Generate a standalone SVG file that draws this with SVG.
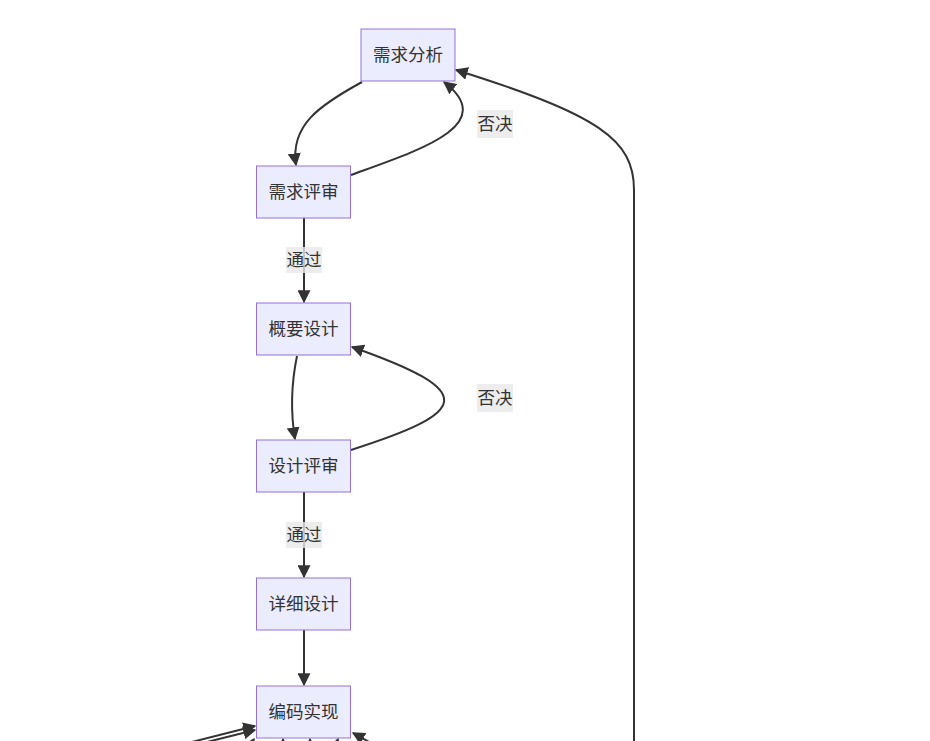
<svg xmlns="http://www.w3.org/2000/svg" width="930" height="741" viewBox="0 0 930 741">
<style>
.node rect{fill:#ECECFF;stroke:#9370DB;stroke-width:1}
.node text,.lbl text{font-family:"Noto Sans CJK SC",sans-serif;font-size:17.5px;fill:#333;text-anchor:middle;dominant-baseline:central}
.edge{fill:none;stroke:#333;stroke-width:2}
.lbl rect{fill:#e8e8e8;opacity:0.8}
</style>
<defs>
<marker id="arr" viewBox="0 0 10 10" refX="9" refY="5" markerWidth="13" markerHeight="13" markerUnits="userSpaceOnUse" orient="auto">
<path d="M0,0 L10,5 L0,10 z" fill="#333"/>
</marker>
</defs>
<rect width="930" height="741" fill="#fff"/>
<g id="edges">
<path class="edge" d="M362,82 C320,105 290,125 296,165" marker-end="url(#arr)"/>
<path class="edge" d="M351,175 C420,150 500,125 444,82" marker-end="url(#arr)"/>
<path class="edge" d="M304,218 L304,302" marker-end="url(#arr)"/>
<path class="edge" d="M297,356 C290,390 291,415 295,439" marker-end="url(#arr)"/>
<path class="edge" d="M351,450 C470,412 480,392 352,347" marker-end="url(#arr)"/>
<path class="edge" d="M304,492 L304,577" marker-end="url(#arr)"/>
<path class="edge" d="M304,630 L304,685" marker-end="url(#arr)"/>
<path class="edge" d="M634,745 L634,190 C634,140 600,115 456,70" marker-end="url(#arr)"/>
<path class="edge" d="M180,745 L255,726" marker-end="url(#arr)"/>
<path class="edge" d="M195,745 L255,730" marker-end="url(#arr)"/>
<path class="edge" d="M240,760 L254,739" marker-end="url(#arr)"/>
<path class="edge" d="M283,760 L283,739" marker-end="url(#arr)"/>
<path class="edge" d="M310,760 L310,739" marker-end="url(#arr)"/>
<path class="edge" d="M330,760 L338,739" marker-end="url(#arr)"/>
<path class="edge" d="M380,748 L353,733" marker-end="url(#arr)"/>
</g>
<g class="lbl">
<rect x="477" y="110" width="36" height="28"/><text x="495" y="122">否决</text>
<rect x="286" y="247" width="36" height="26"/><text x="304" y="258">通过</text>
<rect x="477" y="384" width="36" height="28"/><text x="495" y="396">否决</text>
<rect x="286" y="522" width="36" height="26"/><text x="304" y="533">通过</text>
</g>
<g id="n1" class="node"><rect x="361" y="29" width="94" height="52"/><text x="408" y="53">需求分析</text></g>
<g id="n2" class="node"><rect x="256.5" y="166" width="94" height="52"/><text x="303.5" y="190">需求评审</text></g>
<g id="n3" class="node"><rect x="256.5" y="303" width="94" height="52"/><text x="303.5" y="327">概要设计</text></g>
<g id="n4" class="node"><rect x="256.5" y="440" width="94" height="52"/><text x="303.5" y="464">设计评审</text></g>
<g id="n5" class="node"><rect x="256.5" y="578" width="94" height="52"/><text x="303.5" y="602">详细设计</text></g>
<g id="n6" class="node"><rect x="256.5" y="686" width="94" height="52"/><text x="303.5" y="710">编码实现</text></g>
</svg>
